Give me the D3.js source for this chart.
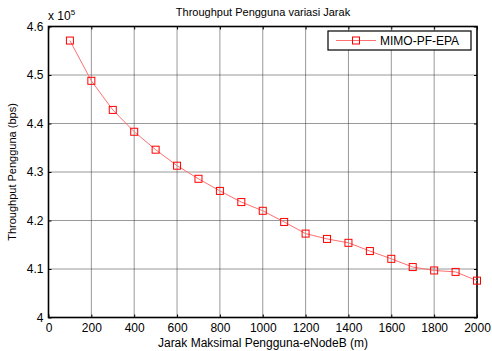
<!DOCTYPE html>
<html>
<head>
<meta charset="utf-8">
<script src="https://cdn.jsdelivr.net/npm/d3@7"></script>
<style>
  body { margin: 0; background: #fff; }
  svg { display: block; font-family: "Liberation Sans", Arial, sans-serif; }
</style>
</head>
<body>
<div class="container"></div>
<script>
// data
const jarak = [100, 200, 300, 400, 500, 600, 700, 800, 900, 1000,
               1100, 1200, 1300, 1400, 1500, 1600, 1700, 1800, 1900, 2000];
const throughput = [457100, 448800, 442800, 438300, 434600, 431300, 428600, 426100, 423800, 422000,
                    419700, 417300, 416200, 415400, 413700, 412100, 410400, 409700, 409400, 407600];
const xTicks = [0, 200, 400, 600, 800, 1000, 1200, 1400, 1600, 1800, 2000];
const yTicks = [400000, 410000, 420000, 430000, 440000, 450000, 460000];
const seriesName = "MIMO-PF-EPA";

const dataset = jarak.map((d, i) => ({x: d, y: throughput[i]}));

const w = 492;
const h = 351;
const padL = 48.5, padR = 477, padT = 26.5, padB = 317.5;

const svg = d3.select(".container")
              .append("svg")
              .attr("width", w)
              .attr("height", h);

const xScale = d3.scaleLinear().domain([0, 2000]).range([padL, padR]);
const yScale = d3.scaleLinear().domain([400000, 460000]).range([padB, padT]);

// grid
svg.append("g")
   .selectAll("line")
   .data(xTicks.slice(1, -1))
   .enter()
   .append("line")
   .attr("x1", d => xScale(d)).attr("x2", d => xScale(d))
   .attr("y1", padT).attr("y2", padB)
   .attr("stroke", "#333").attr("stroke-width", 1)
   .attr("stroke-dasharray", "1,1");

svg.append("g")
   .selectAll("line")
   .data(yTicks.slice(1, -1))
   .enter()
   .append("line")
   .attr("x1", padL).attr("x2", padR)
   .attr("y1", d => yScale(d)).attr("y2", d => yScale(d))
   .attr("stroke", "#333").attr("stroke-width", 1)
   .attr("stroke-dasharray", "1,1");

// axes (matlab style, ticks inside)
const xAxis = d3.axisBottom(xScale).tickValues(xTicks).tickSizeInner(-3).tickSizeOuter(0).tickPadding(6).tickFormat(d3.format("d"));
const yAxis = d3.axisLeft(yScale).tickValues(yTicks).tickSizeInner(-3).tickSizeOuter(0).tickPadding(5).tickFormat(d => d3.format("")(d / 1e5));

const gx = svg.append("g").attr("transform", "translate(0," + padB + ")").call(xAxis);
const gy = svg.append("g").attr("transform", "translate(" + padL + ",0)").call(yAxis);
[gx, gy].forEach(g => {
  g.select(".domain").remove();
  g.selectAll("line").attr("stroke", "#000");
  g.selectAll("text").attr("font-size", 12).attr("fill", "#000")
   .attr("font-family", "Liberation Sans, Arial, sans-serif");
});

// top / right ticks
const gxt = svg.append("g").attr("transform", "translate(0," + padT + ")")
   .call(d3.axisTop(xScale).tickValues(xTicks).tickSizeInner(-3).tickSizeOuter(0).tickFormat(""));
const gyr = svg.append("g").attr("transform", "translate(" + padR + ",0)")
   .call(d3.axisRight(yScale).tickValues(yTicks).tickSizeInner(-3).tickSizeOuter(0).tickFormat(""));
[gxt, gyr].forEach(g => { g.select(".domain").remove(); g.selectAll("line").attr("stroke", "#000"); });

// box
svg.append("rect")
   .attr("x", padL).attr("y", padT)
   .attr("width", padR - padL).attr("height", padB - padT)
   .attr("fill", "none").attr("stroke", "#000").attr("stroke-width", 1.6);

// line + markers
const line = d3.line().x(d => xScale(d.x)).y(d => yScale(d.y));
svg.append("path")
   .datum(dataset)
   .attr("d", line)
   .attr("fill", "none")
   .attr("stroke", "#ff7070")
   .attr("stroke-width", 1);

svg.selectAll("rect.dot")
   .data(dataset)
   .enter()
   .append("rect")
   .attr("class", "dot")
   .attr("x", d => xScale(d.x) - 3.5)
   .attr("y", d => yScale(d.y) - 3.5)
   .attr("width", 7).attr("height", 7)
   .attr("fill", "none")
   .attr("stroke", "#ff0000")
   .attr("stroke-width", 1);

// legend
const lg = svg.append("g");
lg.append("rect").attr("x", 328).attr("y", 31).attr("width", 143).attr("height", 19)
  .attr("fill", "#fff").attr("stroke", "#000").attr("stroke-width", 1.2);
lg.append("line").attr("x1", 336).attr("x2", 376).attr("y1", 40.5).attr("y2", 40.5)
  .attr("stroke", "#ff7070").attr("stroke-width", 1);
lg.append("rect").attr("x", 352.5).attr("y", 37).attr("width", 7).attr("height", 7)
  .attr("fill", "none").attr("stroke", "#ff0000");
lg.append("text").attr("x", 380).attr("y", 45).attr("font-size", 12).text(seriesName);

// titles
svg.append("text").attr("x", 263).attr("y", 16).attr("text-anchor", "middle")
   .attr("font-size", 11).text("Throughput Pengguna variasi Jarak");
svg.append("text").attr("x", 263).attr("y", 347).attr("text-anchor", "middle")
   .attr("font-size", 12).text("Jarak Maksimal Pengguna-eNodeB (m)");
svg.append("text").attr("transform", "rotate(-90)").attr("x", -172).attr("y", 16)
   .attr("text-anchor", "middle").attr("font-size", 11).text("Throughput Pengguna (bps)");

// exponent label
const ex = svg.append("text").attr("x", 48).attr("y", 20).attr("font-size", 12);
ex.append("tspan").text("x 10");
ex.append("tspan").attr("dy", -5).attr("font-size", 8).text("5");
</script>
</body>
</html>
